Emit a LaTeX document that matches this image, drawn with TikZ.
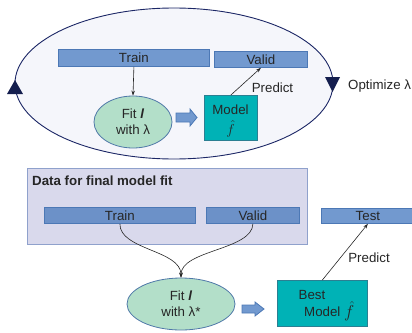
\documentclass[tikz,border=0pt]{standalone}
\usepackage{fontspec}
\setmainfont{Liberation Sans}
\usetikzlibrary{shapes.geometric,arrows.meta}
\definecolor{bigfill}{HTML}{F5F6FB}
\definecolor{bigdraw}{HTML}{1C2766}
\definecolor{barfill}{HTML}{7299CF}
\definecolor{barfilltwo}{HTML}{6C91C8}
\definecolor{bardraw}{HTML}{4C78B5}
\definecolor{fitfill}{HTML}{B3DFC9}
\definecolor{fitdraw}{HTML}{4F78A8}
\definecolor{modfill}{HTML}{00B2B6}
\definecolor{moddraw}{HTML}{2B7F92}
\definecolor{datafill}{HTML}{D9D9EC}
\definecolor{datadraw}{HTML}{8FA1CC}
\definecolor{tri}{HTML}{141E4E}
\tikzset{
  txt/.style={font=\fontsize{13.3}{15}\selectfont, text=black!85},
  bar/.style={txt, draw=bardraw, fill=barfill, line width=0.8pt, inner sep=0pt, anchor=north west},
  fitell/.style={txt, ellipse, draw=fitdraw, fill=fitfill, line width=0.8pt, inner sep=0pt, align=center},
  modbox/.style={txt, draw=moddraw, fill=modfill, line width=0.8pt, inner sep=0pt, anchor=north west, align=center},
  conn/.style={draw=black!85, line width=0.6pt, -{Stealth[length=5pt,width=3.5pt]}},
  blockarrow/.style={draw=bardraw, fill=barfill, line width=0.8pt},
  lbl/.style={txt}
}
\begin{document}
\begin{tikzpicture}[x=1pt,y=-1pt]
\useasboundingbox (0,0) rectangle (412,332);
% big loop ellipse
\node[ellipse, draw=bigdraw, fill=bigfill, line width=0.9pt, minimum width=318pt, minimum height=151pt, inner sep=0pt] (loop) at (174,83.5) {};
\fill[tri] (7,94) -- (23,94) -- (15,80) -- cycle;
\fill[tri] (325,77) -- (340,77) -- (332.5,92) -- cycle;
\node[lbl, anchor=west, inner sep=0pt] (opt) at (348,86) {Optimize λ};
% upper row
\node[bar, minimum width=151pt, minimum height=17pt] (train1) at (58,49) {Train};
\node[bar, minimum width=93pt, minimum height=16pt] (valid1) at (214,51) {Valid};
\node[fitell, minimum width=78pt, minimum height=52pt] (fit1) at (133,122) {Fit \textbf{\textit{l}}\\[1pt]with λ};
\node[modbox, minimum width=53pt, minimum height=45pt] (model1) at (204,95) {};
\node[txt, inner sep=0pt] (model1t) at (230.5,110) {Model};
\node[txt, inner sep=0pt] (model1f) at (230.5,129) {$\hat{f}$};
\draw[blockarrow] (176,113) -- (190,113) -- (190,109) -- (197,117.5) -- (190,126) -- (190,122) -- (176,122) -- cycle;
\draw[conn] (train1.south) -- (fit1.north);
\draw[conn] (model1.north) -- (valid1.south);
\node[lbl, inner sep=0pt] (pred1) at (272.5,88) {Predict};
% lower part
\node[draw=datadraw, fill=datafill, line width=0.8pt, inner sep=0pt, anchor=north west, minimum width=280pt, minimum height=76pt] (data) at (27,168) {};
\node[txt, font=\fontsize{13.3}{15}\selectfont\bfseries, anchor=west, inner sep=0pt] (datatitle) at (32,181) {Data for final model fit};
\node[bar, fill=barfilltwo, minimum width=151pt, minimum height=16pt] (train2) at (44,207) {Train};
\node[bar, fill=barfilltwo, minimum width=93pt, minimum height=16pt] (valid2) at (206,207) {Valid};
\node[bar, minimum width=93pt, minimum height=15pt] (test) at (321,208) {Test};
\node[fitell, minimum width=108pt, minimum height=52pt] (fit2) at (181,304) {Fit \textbf{\textit{l}}\\[1pt]with λ*};
\node[modbox, minimum width=90pt, minimum height=46pt] (best) at (277,280) {};
\node[txt, inner sep=0pt] (bestt) at (312,295) {Best};
\node[txt, inner sep=0pt, anchor=west] (bestm) at (304,312) {Model};
\node[txt, inner sep=0pt, anchor=west, font=\fontsize{16}{16}\selectfont] (bestf) at (344,311) {$\hat{f}$};
\draw[blockarrow] (242,305) -- (255,305) -- (255,302) -- (264,309) -- (255,316) -- (255,313) -- (242,313) -- cycle;
\draw[conn] (train2.south) .. controls (119.5,250) and (181,250) .. (fit2.north);
\draw[conn] (valid2.south) .. controls (252.5,250) and (181,250) .. (fit2.north);
\draw[conn] (best.north) -- (test.south);
\node[lbl, inner sep=0pt] (pred2) at (369,258) {Predict};
\end{tikzpicture}
\end{document}
